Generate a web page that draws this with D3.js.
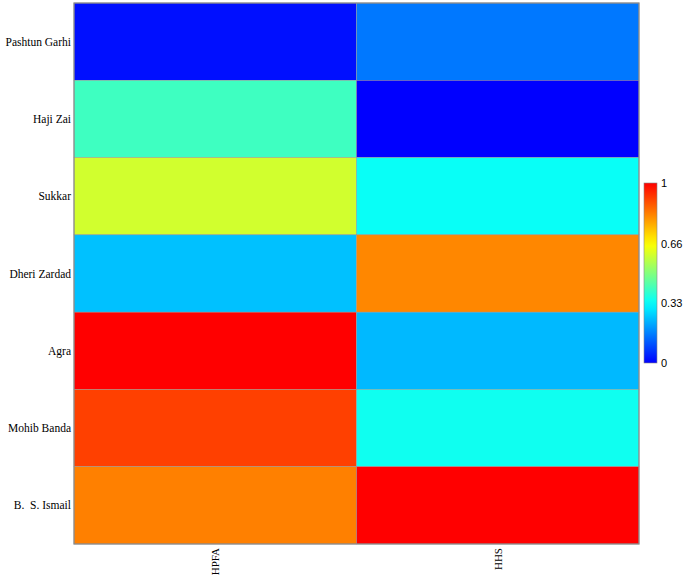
<!DOCTYPE html>
<html>
<head>
<meta charset="utf-8">
<script src="https://cdn.jsdelivr.net/npm/d3@7"></script>
<style>
  body { margin: 0; background: #fff; }
  svg { display: block; }
</style>
</head>
<body>
<svg id="chart" width="685" height="576"></svg>
<script>
// data (normalised 0..1)
var sites = ["Pashtun Garhi", "Haji Zai", "Sukkar", "Dheri Zardad", "Agra", "Mohib Banda", "B.  S. Ismail"];
var indices = ["HPFA", "HHS"];
var hpfa = [0.02, 0.41, 0.60, 0.25, 1.00, 0.915, 0.83];
var hhs = [0.155, 0.00, 0.34, 0.82, 0.24, 0.35, 1.00];
var legendTicks = [0, 0.33, 0.66, 1];

var series = { HPFA: hpfa, HHS: hhs };

var cells = [];
sites.forEach(function(s, i) {
	indices.forEach(function(k) {
		cells.push({ site: s, index: k, value: series[k][i] });
	});
});

var svg = d3.select("#chart");
// (window.top is read-only, so don't call it "top")
var mLeft = 74, mRight = 639, mTop = 3, mBottom = 544;

var x = d3.scaleBand().domain(indices).range([mLeft, mRight]);
var y = d3.scaleBand().domain(sites).range([mTop, mBottom]);

// jet-like ramp, blue -> cyan -> yellow -> red
var color = d3.scaleLinear()
	.domain([0, 0.33, 0.66, 1])
	.range(["#0000ff", "#00ffff", "#ffff00", "#ff0000"])
	.interpolate(d3.interpolateRgb);

svg.append("g").selectAll("rect")
	.data(cells)
	.enter().append("rect")
		.attr("x", function(d) { return x(d.index); })
		.attr("y", function(d) { return y(d.site); })
		.attr("width", x.bandwidth())
		.attr("height", y.bandwidth())
		.style("fill", function(d) { return color(d.value); })
		.style("stroke", "#999")
		.style("stroke-width", 0.5);

svg.append("rect")
	.attr("x", mLeft).attr("y", mTop)
	.attr("width", mRight - mLeft).attr("height", mBottom - mTop)
	.style("fill", "none")
	.style("stroke", "#8a8a8a")
	.style("stroke-width", 1.2);

// row labels
svg.append("g").selectAll("text")
	.data(sites)
	.enter().append("text")
		.attr("x", mLeft - 3)
		.attr("y", function(d) { return y(d) + y.bandwidth() / 2; })
		.attr("dy", ".35em")
		.attr("text-anchor", "end")
		.style("font-family", "'Liberation Serif', 'DejaVu Serif', serif")
		.style("font-size", "11.5px")
		.style("fill", "#000")
		.style("white-space", "pre")
		.text(function(d) { return d; });

// column labels, rotated
svg.append("g").selectAll("text")
	.data(indices)
	.enter().append("text")
		.attr("transform", function(d) {
			return "translate(" + (x(d) + x.bandwidth() / 2 + 4) + "," + (mBottom + 4) + ") rotate(-90)";
		})
		.attr("text-anchor", "end")
		.style("font-family", "'Liberation Serif', 'DejaVu Serif', serif")
		.style("font-size", "11px")
		.style("fill", "#000")
		.text(function(d) { return d; });

// colour bar
var lx = 644, lw = 13, ly0 = 183, ly1 = 363;
var ly = d3.scaleLinear().domain([0, 1]).range([ly1, ly0]);

var defs = svg.append("defs");
var grad = defs.append("linearGradient")
	.attr("id", "jet")
	.attr("x1", 0).attr("y1", 1).attr("x2", 0).attr("y2", 0);
grad.selectAll("stop")
	.data(d3.range(0, 1.0001, 0.05))
	.enter().append("stop")
		.attr("offset", function(d) { return d; })
		.attr("stop-color", function(d) { return color(d); });

svg.append("rect")
	.attr("x", lx).attr("y", ly0)
	.attr("width", lw).attr("height", ly1 - ly0)
	.style("fill", "url(#jet)")
	.style("stroke", "#888")
	.style("stroke-width", 0.6);

svg.append("g").selectAll("text")
	.data(legendTicks)
	.enter().append("text")
		.attr("x", lx + lw + 4)
		.attr("y", function(d) { return ly(d); })
		.attr("dy", ".35em")
		.style("font-family", "'Liberation Sans', Arial, sans-serif")
		.style("font-size", "11px")
		.style("fill", "#000")
		.text(function(d) { return d; });
</script>
</body>
</html>
